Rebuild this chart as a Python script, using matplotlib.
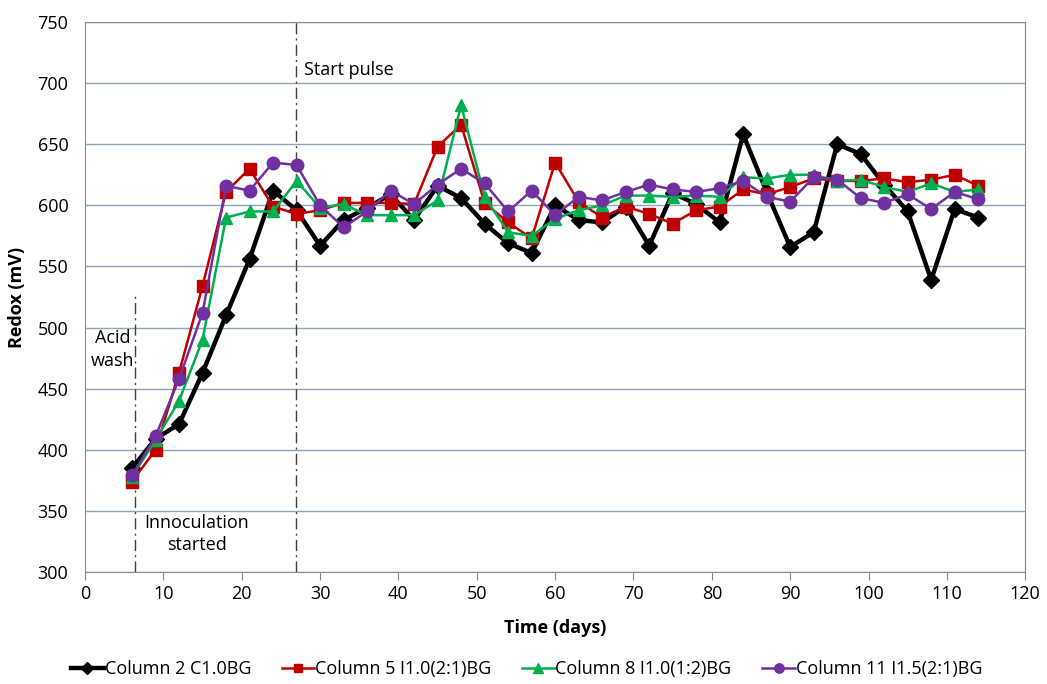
import matplotlib
matplotlib.use("Agg")
import matplotlib.pyplot as plt
from matplotlib.lines import Line2D

plt.rcParams['font.family'] = ['Open Sans', 'DejaVu Sans']

days = [6, 9, 12, 15, 18, 21, 24, 27, 30, 33, 36, 39, 42, 45, 48, 51, 54, 57, 60,
        63, 66, 69, 72, 75, 78, 81, 84, 87, 90, 93, 96, 99, 102, 105, 108, 111, 114]
col2 = [385, 409, 421, 463, 510, 556, 612, 596, 567, 588, 598, 609, 588, 616, 606, 585,
        569, 561, 600, 588, 586, 599, 567, 610, 601, 586, 658, 611, 566, 578, 650, 642,
        617, 595, 539, 597, 590]
col5 = [374, 400, 463, 534, 611, 630, 599, 593, 596, 602, 602, 602, 601, 648, 666, 602,
        586, 573, 635, 603, 590, 599, 593, 585, 596, 599, 613, 609, 615, 622, 620, 620,
        622, 619, 621, 625, 616]
col8 = [378, 408, 440, 490, 590, 595, 595, 620, 598, 601, 592, 592, 592, 604, 682, 607,
        578, 575, 589, 596, 600, 608, 608, 607, 608, 607, 623, 622, 625, 625, 620, 621,
        615, 611, 618, 611, 613]
col11 = [379, 411, 458, 512, 616, 612, 635, 633, 600, 582, 595, 612, 601, 617, 630, 618,
         595, 612, 592, 607, 604, 611, 617, 613, 611, 614, 620, 607, 603, 623, 621, 606,
         602, 609, 597, 611, 605]
labels = ["Column 2 C1.0BG", "Column 5 I1.0(2:1)BG", "Column 8 I1.0(1:2)BG", "Column 11 I1.5(2:1)BG"]
x_ticks = list(range(0, 121, 10))
y_ticks = list(range(300, 751, 50))

fig = plt.figure(figsize=(10.47, 6.84), dpi=100)
ax = fig.add_axes([0.0812, 0.1637, 0.898, 0.8041])

grid_c = '#8EA4BC'
ax.set_xlim(0, 120)
ax.set_ylim(300, 750)
ax.set_xticks(x_ticks)
ax.set_yticks(y_ticks)
ax.yaxis.grid(True, color=grid_c, lw=1.0)
ax.set_axisbelow(True)
for s in ax.spines.values():
    s.set_color('#8C8C8C')
ax.tick_params(axis='both', labelsize=13, color='#8C8C8C', length=6)
ax.tick_params(axis='x', pad=3)
ax.tick_params(axis='y', length=0, pad=12)

styles = [
    dict(color='black', marker='D', ms=8, lw=3.2),
    dict(color='#C00000', marker='s', ms=8, lw=1.8),
    dict(color='#00B050', marker='^', ms=9, lw=1.8),
    dict(color='#7030A0', marker='o', ms=9, lw=1.8),
]
series = [col2, col5, col8, col11]
for vals, st, lab in zip(series, styles, labels):
    ax.plot(days, vals, label=lab, zorder=3, **st)

ax.plot([6.4, 6.4], [300, 528], color='#404040', lw=1.0, ls=(0, (8, 3, 1.5, 3)))
ax.axvline(26.9, color='#404040', lw=1.0, ls=(0, (8, 3, 1.5, 3)))

ax.text(3.5, 482, "Acid\nwash", fontsize=13, ha='center', va='center',
        multialignment='center', linespacing=1.3)
ax.text(14.3, 331, "Innoculation\nstarted", fontsize=13, ha='center', va='center',
        multialignment='center', linespacing=1.3)
ax.text(28.0, 711, "Start pulse", fontsize=13, ha='left', va='center')

ax.set_xlabel("Time (days)", fontsize=13, fontweight='bold', labelpad=12)
ax.set_ylabel("Redox (mV)", fontsize=13, fontweight='bold', labelpad=8)

handles = [Line2D([0], [0], **st) for st in styles]
fig.legend(handles, labels, loc='center', bbox_to_anchor=(0.503, 0.022), ncol=4,
           frameon=False, fontsize=13, handlelength=1.8, handletextpad=0.05,
           columnspacing=1.7, markerscale=0.75)

fig.savefig("out.png", dpi=100)
